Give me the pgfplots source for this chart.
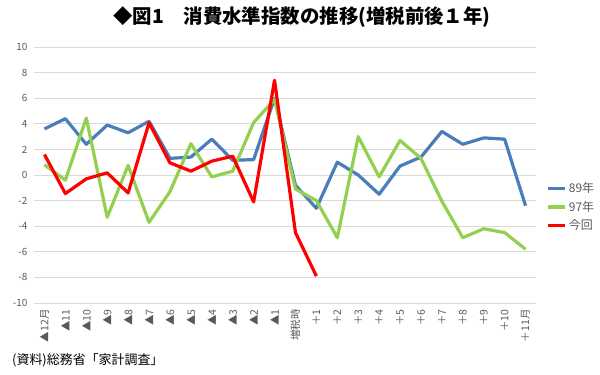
\documentclass[border=0pt]{standalone}
\usepackage{fontspec}
\setmainfont{Noto Sans CJK JP}
\usepackage{pgfplots}
\pgfplotsset{compat=1.18}
\definecolor{c89}{RGB}{74,126,187}
\definecolor{c97}{RGB}{146,208,80}
\definecolor{c14}{RGB}{255,0,0}
\definecolor{gridc}{RGB}{217,217,217}
\definecolor{tickc}{RGB}{89,89,89}
\begin{document}
\begin{tikzpicture}[x=1bp,y=1bp]
\path[use as bounding box] (0,0) rectangle (600,374);
\begin{axis}[
  at={(34bp,71bp)}, anchor=south west,
  scale only axis, width=502bp, height=256bp,
  xmin=-0.5, xmax=23.5, ymin=-10, ymax=10,
  ytick={-10,-8,...,10},
  xtick={0,...,23},
  xticklabels={▲12月,▲11,▲10,▲9,▲8,▲7,▲6,▲5,▲4,▲3,▲2,▲1,増税時,＋1,＋2,＋3,＋4,＋5,＋6,＋7,＋8,＋9,＋10,＋11月},
  axis line style={draw=none},
  major tick length=0pt,
  ymajorgrids, grid style={gridc, line width=0.8bp},
  /pgf/number format/assume math mode=true,
  yticklabel style={font=\fontsize{10}{11}\selectfont, text=tickc, xshift=-3bp},
  xticklabel style={font=\fontsize{10.5}{11}\selectfont, text=tickc, rotate=90, anchor=east, xshift=-3bp},
  legend style={at={(1.015,0.375)}, anchor=west, draw=none, fill=none,
    font=\fontsize{12}{13}\selectfont, text=tickc, row sep=3bp},
  legend cell align=left,
  every axis plot/.append style={line width=3.2bp, line join=round, no markers},
]
\addplot[c89] coordinates {(0,3.6)(1,4.4)(2,2.4)(3,3.9)(4,3.3)(5,4.2)(6,1.3)(7,1.4)(8,2.8)(9,1.15)(10,1.2)(11,6.0)(12,-0.8)(13,-2.6)(14,1.0)(15,0.0)(16,-1.5)(17,0.7)(18,1.4)(19,3.4)(20,2.4)(21,2.9)(22,2.8)(23,-2.4)};
\addlegendentry{89年}
\addplot[c97] coordinates {(0,0.8)(1,-0.4)(2,4.45)(3,-3.3)(4,0.75)(5,-3.7)(6,-1.3)(7,2.45)(8,-0.15)(9,0.3)(10,4.1)(11,5.9)(12,-1.1)(13,-2.0)(14,-4.9)(15,3.0)(16,-0.15)(17,2.7)(18,1.3)(19,-2.05)(20,-4.9)(21,-4.2)(22,-4.5)(23,-5.8)};
\addlegendentry{97年}
\addplot[c14] coordinates {(0,1.6)(1,-1.45)(2,-0.3)(3,0.17)(4,-1.4)(5,4.08)(6,0.95)(7,0.3)(8,1.08)(9,1.47)(10,-2.1)(11,7.4)(12,-4.5)(13,-7.9)};
\addlegendentry{今回}
\end{axis}
\node[font=\fontsize{19.5}{20}\selectfont\bfseries] at (302,357) {◆図1　消費水準指数の推移(増税前後１年)};
\node[anchor=west, font=\fontsize{13}{14}\selectfont, inner sep=0pt] at (12,14) {(資料)総務省「家計調査」};
\end{tikzpicture}
\end{document}
